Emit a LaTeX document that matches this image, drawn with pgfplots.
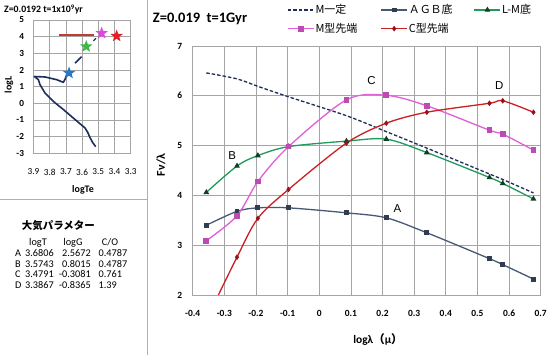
\documentclass[border=0pt]{standalone}
\usepackage{pgfplots}
\pgfplotsset{compat=1.18}
\usepackage{fontspec}
\setmainfont{Carlito}
\newfontfamily\jp{Noto Sans CJK JP}
\newfontfamily\arialf{Liberation Sans}
\definecolor{navy}{RGB}{31,45,90}
\definecolor{agb}{RGB}{70,90,118}
\definecolor{agbm}{RGB}{50,60,80}
\definecolor{lm}{RGB}{30,155,90}
\definecolor{lmm}{RGB}{20,60,40}
\definecolor{mtip}{RGB}{225,95,215}
\definecolor{mtipm}{RGB}{190,75,180}
\definecolor{ctip}{RGB}{205,30,35}
\definecolor{ctipm}{RGB}{150,20,25}
\definecolor{gridc}{RGB}{165,165,165}
\definecolor{sepc}{RGB}{175,175,175}
\definecolor{stA}{RGB}{40,120,200}
\definecolor{stB}{RGB}{60,185,70}
\definecolor{stC}{RGB}{225,70,225}
\definecolor{stD}{RGB}{230,30,35}
\definecolor{redl}{RGB}{190,60,50}
\pgfdeclareplotmark{fstar}{%
  \pgfpathmoveto{\pgfpointpolar{90}{\pgfplotmarksize}}%
  \pgfpathlineto{\pgfpointpolar{126}{0.42\pgfplotmarksize}}%
  \pgfpathlineto{\pgfpointpolar{162}{\pgfplotmarksize}}%
  \pgfpathlineto{\pgfpointpolar{198}{0.42\pgfplotmarksize}}%
  \pgfpathlineto{\pgfpointpolar{234}{\pgfplotmarksize}}%
  \pgfpathlineto{\pgfpointpolar{270}{0.42\pgfplotmarksize}}%
  \pgfpathlineto{\pgfpointpolar{306}{\pgfplotmarksize}}%
  \pgfpathlineto{\pgfpointpolar{342}{0.42\pgfplotmarksize}}%
  \pgfpathlineto{\pgfpointpolar{18}{\pgfplotmarksize}}%
  \pgfpathlineto{\pgfpointpolar{54}{0.42\pgfplotmarksize}}%
  \pgfpathclose
  \pgfusepathqfill
}
\begin{document}
\begin{tikzpicture}
\path[use as bounding box] (0,0) rectangle (560bp,355bp);
\fill[white] (0,0) rectangle (560bp,355bp);
% separators
\draw[sepc, line width=0.8bp] (147bp,0) -- (147bp,355bp);
\draw[sepc, line width=0.8bp] (0,156bp) -- (147bp,156bp);

% ---------------- inset HR diagram ----------------
\begin{axis}[
  scale only axis, width=97.2bp, height=133.3bp,
  at={(33.5bp,201.7bp)}, anchor=south west,
  x dir=reverse, xmin=3.3, xmax=3.9, ymin=-3, ymax=5,
  xtick={3.3,3.4,3.5,3.6,3.7,3.8,3.9}, ytick={-3,-2,-1,0,1,2,3,4,5},
  grid=major, major grid style={gridc, line width=0.5bp},
  axis line style={gridc, line width=0.6bp}, tick style={draw=none},
  /pgf/number format/assume math mode=true,
  xticklabel style={font=\fontsize{9.3}{10}\selectfont, yshift=-12bp},
  yticklabel style={font=\bfseries\fontsize{9.3}{10}\selectfont, xshift=-6bp},
  clip=false,
]
\addplot[navy, line width=1.6bp, line join=round] coordinates {
 (3.516,-2.60) (3.535,-2.35) (3.551,-2.06) (3.565,-1.75) (3.582,-1.48) (3.644,-0.97) (3.716,-0.37) (3.778,0.12) (3.829,0.62) (3.860,1.12) (3.870,1.42) (3.895,1.61) (3.829,1.58) (3.757,1.42) (3.716,1.26) (3.705,1.45) (3.695,1.72)};
\addplot[navy, line width=1.6bp] coordinates {(3.644,2.41) (3.603,2.80)};
\addplot[navy, line width=1.2bp] coordinates {(3.53,3.75) (3.515,3.90)};
\addplot[redl, line width=1.6bp] coordinates {(3.741,4.10) (3.527,4.10)};
\addplot[only marks, mark=fstar, mark size=6.5bp, stA] coordinates {(3.6806,1.82)};
\addplot[only marks, mark=fstar, mark size=6.5bp, stB] coordinates {(3.5743,3.41)};
\addplot[only marks, mark=fstar, mark size=6.5bp, stC] coordinates {(3.4791,4.21)};
\addplot[only marks, mark=fstar, mark size=6.5bp, stD] coordinates {(3.3867,4.04)};
\end{axis}
\node[anchor=base west, inner sep=0, font=\bfseries\fontsize{9.8}{11}\selectfont] at (4bp,342.3bp) {Z=0.0192 t=1x10\textsuperscript{9}yr};
\node[rotate=90, inner sep=0, font=\bfseries\fontsize{10}{11}\selectfont] at (9bp,270bp) {logL};
\node[inner sep=0, font=\bfseries\fontsize{10}{11}\selectfont] at (83bp,165bp) {logTe};

% ---------------- table ----------------
\node[anchor=base west, inner sep=0, font=\jp\bfseries\fontsize{10.5}{12}\selectfont] at (21.7bp,125bp) {大気パラメター};
\begin{scope}[every node/.style={inner sep=0, font=\fontsize{10.3}{12}\selectfont}]
\node[anchor=base] at (38bp,109.5bp) {logT};
\node[anchor=base] at (73bp,109.5bp) {logG};
\node[anchor=base] at (110bp,109.5bp) {C/O};
\node[anchor=base west] at (15bp,98bp) {A};
\node[anchor=base west] at (15bp,87.2bp) {B};
\node[anchor=base west] at (15bp,77bp) {C};
\node[anchor=base west] at (15bp,66.5bp) {D};
\node[anchor=base west] at (25bp,98bp) {3.6806};
\node[anchor=base west] at (25bp,87.2bp) {3.5743};
\node[anchor=base west] at (25bp,77bp) {3.4791};
\node[anchor=base west] at (25bp,66.5bp) {3.3867};
\node[anchor=base east] at (91bp,98bp) {2.5672};
\node[anchor=base east] at (91bp,87.2bp) {0.8015};
\node[anchor=base east] at (91bp,77bp) {-0.3081};
\node[anchor=base east] at (91bp,66.5bp) {-0.8365};
\node[anchor=base west] at (98.5bp,98bp) {0.4787};
\node[anchor=base west] at (98.5bp,87.2bp) {0.4787};
\node[anchor=base west] at (98.5bp,77bp) {0.761};
\node[anchor=base west] at (98.5bp,66.5bp) {1.39};
\end{scope}

% ---------------- main chart ----------------
\node[anchor=base west, inner sep=0, font=\bfseries\fontsize{14.5}{16}\selectfont] at (152.7bp,332.3bp) {Z=0.019\ \ t=1Gyr};
\begin{axis}[
  scale only axis, width=348bp, height=249bp,
  at={(192.7bp,60bp)}, anchor=south west,
  xmin=-0.4, xmax=0.7, ymin=2, ymax=7,
  xtick={-0.4,-0.3,-0.2,-0.1,0,0.1,0.2,0.3,0.4,0.5,0.6,0.7}, ytick={2,3,4,5,6,7},
  grid=major, major grid style={gridc, line width=0.6bp},
  axis line style={gridc, line width=0.6bp}, tick style={draw=none},
  /pgf/number format/assume math mode=true,
  xticklabel style={font=\bfseries\fontsize{9.5}{10}\selectfont, yshift=-12bp},
  yticklabel style={font=\bfseries\fontsize{9.5}{10}\selectfont, xshift=-7bp},
  legend columns=3,
  legend cell align=left,
  legend style={at={(0.271,1.171)}, anchor=north west, draw=none, fill=none, inner sep=0pt,
    font=\jp\fontsize{11}{13}\selectfont,
    nodes={inner xsep=1bp, inner ysep=1bp, text width=56bp, align=left},
    /tikz/every even column/.append style={column sep=8bp}, row sep=6bp},
  legend image code/.code={\draw[mark repeat=2,mark phase=2,#1] plot coordinates {(0bp,0bp)(13bp,0bp)(26bp,0bp)};},
]
\addplot[navy, line width=1.3bp, dash pattern=on 3.5bp off 2bp, smooth] coordinates {
 (-0.357,6.46) (-0.260,6.34) (-0.194,6.19) (-0.097,5.98) (0.086,5.60) (0.212,5.28) (0.340,4.95) (0.538,4.43) (0.580,4.32) (0.677,4.05)};
\addlegendentry{M一定}
\addplot[agb, line width=1.3bp, smooth, tension=0.5, mark=square*, mark size=1.8bp, mark options={fill=agbm, draw=agbm, solid}] coordinates {
 (-0.357,3.40) (-0.260,3.68) (-0.194,3.75) (-0.097,3.75) (0.086,3.65) (0.212,3.55) (0.340,3.25) (0.538,2.73) (0.580,2.61) (0.677,2.32)};
\addlegendentry{ＡＧＢ底}
\addplot[lm, line width=1.3bp, smooth, tension=0.5, mark=triangle*, mark size=2.1bp, mark options={fill=lmm, draw=lmm, solid}] coordinates {
 (-0.357,4.06) (-0.260,4.59) (-0.194,4.80) (-0.097,4.98) (0.086,5.09) (0.212,5.13) (0.340,4.86) (0.538,4.36) (0.580,4.24) (0.677,3.93)};
\addlegendentry{L-M底}
\addplot[mtip, line width=1.3bp, smooth, tension=0.5, mark=square*, mark size=2.2bp, mark options={fill=mtipm, draw=mtipm, solid}] coordinates {
 (-0.357,3.09) (-0.260,3.59) (-0.194,4.28) (-0.097,4.98) (0.086,5.92) (0.212,6.01) (0.340,5.80) (0.538,5.31) (0.580,5.23) (0.677,4.91)};
\addlegendentry{M型先端}
\addplot[ctip, line width=1.3bp, smooth, tension=0.5, mark=diamond*, mark size=1.8bp, mark options={fill=ctipm, draw=ctipm, solid}] coordinates {
 (-0.357,1.50) (-0.260,2.76) (-0.194,3.54) (-0.097,4.12) (0.086,5.05) (0.212,5.45) (0.340,5.67) (0.538,5.85) (0.580,5.90) (0.677,5.67)};
\addlegendentry{C型先端}
\node[font=\arialf\fontsize{11.5}{12}\selectfont] at (axis cs:0.247,3.74) {A};
\node[font=\arialf\fontsize{11.5}{12}\selectfont] at (axis cs:-0.275,4.80) {B};
\node[font=\arialf\fontsize{11.5}{12}\selectfont] at (axis cs:0.165,6.30) {C};
\node[font=\arialf\fontsize{11.5}{12}\selectfont] at (axis cs:0.569,6.20) {D};
\end{axis}
\node[rotate=90, inner sep=0, font=\bfseries\fontsize{12}{13}\selectfont] at (161bp,190bp) {Fν/λ};
\node[anchor=base, inner sep=0, font=\bfseries\fontsize{11.5}{13}\selectfont] at (378bp,11.7bp) {logλ{\jp（}μ{\jp）}};
\end{tikzpicture}
\end{document}
